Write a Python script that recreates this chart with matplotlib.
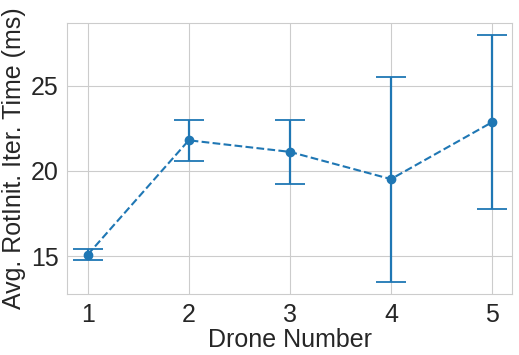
import matplotlib
matplotlib.use("Agg")
import matplotlib.pyplot as plt
import seaborn as sns

sns.set_style("whitegrid")
plt.rcParams['font.family'] = ['Liberation Sans', 'DejaVu Sans']

# --- Data ---
drones = [1, 2, 3, 4, 5]
avg_time = [15.08, 21.80, 21.12, 19.52, 22.86]
err = [0.33, 1.20, 1.90, 6.02, 5.10]

fig, ax = plt.subplots(figsize=(5.19, 3.55), dpi=100)
ax.errorbar(drones, avg_time, yerr=err, fmt='o--', color='#1f77b4',
            markersize=6, elinewidth=1.6, capsize=11, capthick=1.3, linewidth=1.5)

ax.set_xticks(drones)
ax.set_xlabel("Drone Number", fontsize=18, labelpad=1)
ax.set_ylabel("Avg. RotInit. Iter. Time (ms)", fontsize=18, labelpad=3)
ax.tick_params(labelsize=18, pad=3)

plt.subplots_adjust(left=0.13, right=0.987, top=0.935, bottom=0.172)
plt.savefig("out.png", dpi=100)
